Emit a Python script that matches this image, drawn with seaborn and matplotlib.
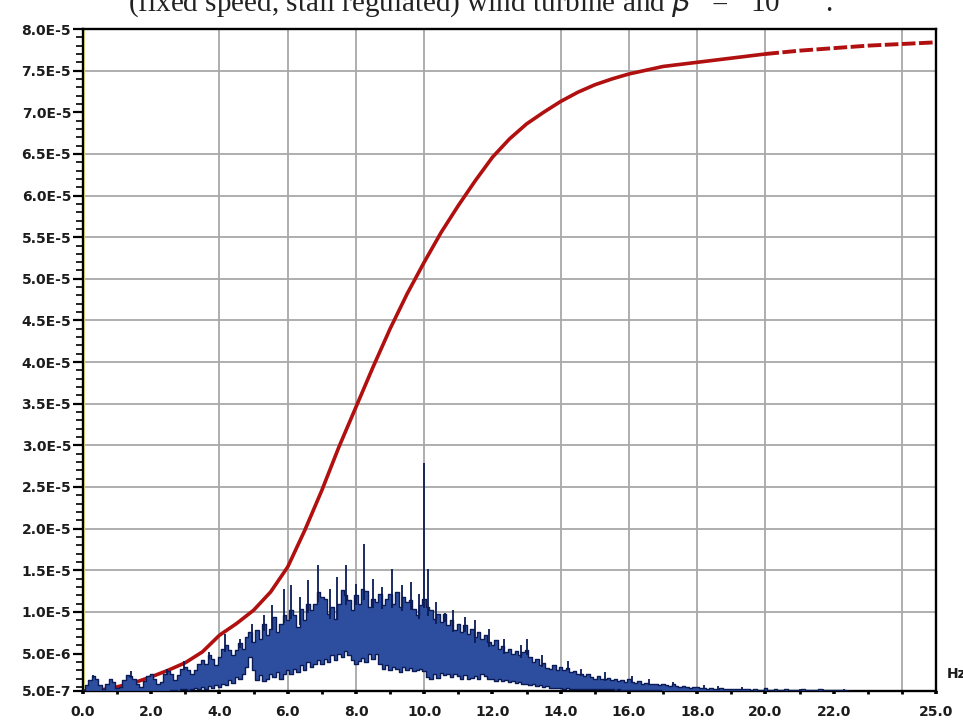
import numpy as np
import matplotlib
matplotlib.use("Agg")
import matplotlib.pyplot as plt
import seaborn as sns
from matplotlib.ticker import FixedLocator, MultipleLocator

# ---- data (amplitudes in units of 1e-6) ----
# blue spectrum band, sampled every 0.1 Hz from 0.0 to 22.5 Hz
spec_upper = [
    0.6, 1.2, 1.8, 2.3, 2.0, 1.2, 0.7, 1.4, 1.9, 1.6,
    0.9, 1.0, 1.8, 2.4, 2.3, 2.0, 1.3, 1.0, 1.7, 2.3,
    2.6, 2.0, 1.3, 1.6, 2.5, 2.9, 2.6, 1.8, 2.4, 3.2,
    3.4, 3.0, 2.6, 3.0, 3.8, 4.2, 3.7, 4.8, 4.3, 3.6,
    4.6, 5.6, 6.0, 5.4, 4.8, 5.4, 6.3, 5.5, 7.0, 7.6,
    6.4, 7.8, 6.8, 8.5, 7.2, 8.0, 9.4, 7.6, 8.5, 9.6,
    9.0, 10.2, 9.6, 8.2, 10.4, 9.0, 11.0, 10.2, 11.0, 12.4,
    11.8, 11.6, 9.8, 10.6, 9.2, 11.0, 12.6, 12.0, 11.4, 10.2,
    12.0, 11.0, 12.8, 12.5, 10.6, 11.6, 11.2, 12.2, 10.8, 11.6,
    12.2, 11.0, 12.4, 10.6, 11.8, 11.2, 11.4, 10.4, 9.6, 10.8,
    11.6, 10.6, 10.2, 9.2, 9.8, 8.8, 9.7, 8.4, 9.0, 7.8,
    8.6, 7.6, 8.4, 7.4, 8.0, 7.0, 7.6, 6.8, 7.2, 6.4,
    6.0, 6.6, 5.6, 5.9, 5.2, 5.6, 5.0, 5.3, 4.8, 5.2,
    5.4, 4.6, 4.0, 4.3, 3.6, 3.9, 3.3, 3.2, 3.6, 3.0,
    3.4, 3.0, 3.3, 2.8, 2.9, 2.5, 2.6, 2.3, 2.5, 2.2,
    2.0, 2.3, 2.0, 1.9, 2.1, 1.8, 1.9, 1.7, 1.8, 1.6,
    1.9, 1.6, 1.5, 1.7, 1.4, 1.5, 1.3, 1.4, 1.3, 1.2,
    1.3, 1.2, 1.1, 1.3, 1.1, 1.0, 1.1, 1.0, 0.9, 1.0,
    1.0, 0.9, 0.9, 0.8, 0.9, 0.8, 0.8, 0.9, 0.7, 0.8,
    0.7, 0.8, 0.7, 0.7, 0.8, 0.7, 0.6, 0.7, 0.6, 0.6,
    0.9, 0.6, 0.6, 0.7, 0.6, 0.6, 0.7, 0.6, 0.6, 0.6,
    0.6, 0.7, 0.6, 0.6, 0.6, 0.6, 0.7, 0.6, 0.6, 0.6,
    0.6, 0.6, 0.6, 0.6, 0.5, 0.5,
]
spec_lower = [
    0.5, 0.5, 0.5, 0.5, 0.5, 0.5, 0.5, 0.5, 0.5, 0.5,
    0.5, 0.5, 0.5, 0.5, 0.5, 0.5, 0.5, 0.5, 0.5, 0.5,
    0.5, 0.5, 0.5, 0.5, 0.5, 0.5, 0.6, 0.6, 0.5, 0.7,
    0.8, 0.6, 0.7, 0.9, 0.7, 1.0, 0.8, 1.1, 0.9, 1.2,
    1.0, 1.4, 1.2, 1.8, 1.5, 2.2, 1.9, 2.6, 3.4, 4.6,
    3.0, 1.8, 2.4, 1.7, 2.0, 2.6, 2.2, 2.8, 2.0, 2.5,
    3.0, 2.6, 3.2, 2.8, 3.6, 3.0, 4.0, 3.4, 3.7, 4.2,
    3.8, 4.4, 4.0, 4.8, 4.2, 5.0, 4.6, 5.3, 4.8, 4.2,
    3.7, 4.1, 4.5, 4.0, 4.9, 4.4, 4.9, 3.8, 3.2, 3.6,
    3.0, 3.4, 3.2, 2.8, 3.4, 3.0, 3.3, 2.9, 3.0, 3.2,
    2.9, 2.2, 2.0, 2.6, 2.1, 2.7, 2.4, 2.5, 2.2, 2.6,
    2.3, 2.0, 2.4, 2.0, 2.1, 2.3, 2.0, 2.5, 2.3, 1.9,
    2.0, 1.7, 1.9, 1.7, 1.8, 1.6, 1.7, 1.5, 1.6, 1.4,
    1.4, 1.2, 1.3, 1.1, 1.2, 1.0, 1.1, 0.9, 0.9, 0.9,
    0.9, 0.8, 0.9, 0.8, 0.8, 0.8, 0.7, 0.8, 0.75, 0.7,
    0.8, 0.7, 0.7, 0.8, 0.7, 0.7, 0.6, 0.7, 0.6, 0.6,
    0.6, 0.6, 0.6, 0.6, 0.6, 0.6, 0.6, 0.6, 0.6, 0.6,
    0.5, 0.5, 0.5, 0.5, 0.5, 0.5, 0.5, 0.5, 0.5, 0.5,
    0.5, 0.5, 0.5, 0.5, 0.5, 0.5, 0.5, 0.5, 0.5, 0.5,
    0.5, 0.5, 0.5, 0.5, 0.5, 0.5, 0.5, 0.5, 0.5, 0.5,
    0.5, 0.5, 0.5, 0.5, 0.5, 0.5, 0.5, 0.5, 0.5, 0.5,
    0.5, 0.5, 0.5, 0.5, 0.5, 0.5, 0.5, 0.5, 0.5, 0.5,
    0.5, 0.5, 0.5, 0.5, 0.5, 0.5,
]
# narrow spectral peaks
spike_hz = [0.3, 1.4, 2.45, 2.95, 3.7, 4.15, 4.6, 4.95, 5.3, 5.55, 5.9, 6.1,
            6.35, 6.6, 6.9, 7.25, 7.45, 7.7, 8.0, 8.25, 8.5, 8.75, 9.05, 9.35,
            9.6, 9.85, 10.0, 10.1, 10.35, 10.6, 10.85, 11.2, 11.5, 11.9, 12.35,
            12.85, 13.0, 13.45, 14.2, 14.6, 15.3, 16.1, 16.6, 17.3, 18.2, 18.6,
            19.3, 20.0, 21.0, 21.7, 22.3]
spike_top = [2.4, 2.9, 3.2, 4.1, 5.2, 7.4, 6.8, 8.6, 9.6, 10.8, 12.8, 13.2,
             11.8, 13.8, 15.6, 12.8, 14.2, 15.6, 13.4, 18.1, 14.0, 13.0, 15.1, 13.2,
             13.6, 12.2, 27.9, 15.1, 11.2, 9.9, 10.2, 9.4, 9.0, 8.0, 6.8,
             6.0, 6.7, 4.8, 4.1, 3.2, 2.8, 2.3, 1.9, 1.6, 1.2, 1.1,
             1.0, 0.9, 0.8, 0.8, 0.7]

# red cumulative curve
red_hz = [0.0, 0.5, 1.0, 1.5, 2.0, 2.5, 3.0, 3.5, 4.0, 4.5, 5.0, 5.5, 6.0, 6.5,
          7.0, 7.5, 8.0, 8.5, 9.0, 9.5, 10.0, 10.5, 11.0, 11.5, 12.0, 12.5, 13.0,
          13.5, 14.0, 14.5, 15.0, 15.5, 16.0, 17.0, 18.0, 19.0, 20.0, 21.0, 22.0,
          23.0, 24.0, 25.0]
red_val = [0.5, 0.6, 1.0, 1.5, 2.2, 3.0, 3.9, 5.2, 7.2, 8.6, 10.2, 12.4, 15.4, 19.8,
           24.6, 29.8, 34.6, 39.4, 44.0, 48.2, 52.0, 55.6, 58.8, 61.8, 64.6, 66.8, 68.6,
           70.0, 71.3, 72.4, 73.3, 74.0, 74.6, 75.5, 76.0, 76.5, 77.0, 77.4, 77.7,
           78.0, 78.2, 78.4]

xtick_vals = [0, 2, 4, 6, 8, 10, 12, 14, 16, 18, 20, 22, 25]
xtick_labels = ["0.0", "2.0", "4.0", "6.0", "8.0", "10.0", "12.0", "14.0",
                "16.0", "18.0", "20.0", "22.0", "25.0"]
ytick_vals = [5e-7, 5e-6, 1e-5, 1.5e-5, 2e-5, 2.5e-5, 3e-5, 3.5e-5, 4e-5,
              4.5e-5, 5e-5, 5.5e-5, 6e-5, 6.5e-5, 7e-5, 7.5e-5, 8e-5]
ytick_labels = ["5.0E-7", "5.0E-6", "1.0E-5", "1.5E-5", "2.0E-5", "2.5E-5",
                "3.0E-5", "3.5E-5", "4.0E-5", "4.5E-5", "5.0E-5", "5.5E-5",
                "6.0E-5", "6.5E-5", "7.0E-5", "7.5E-5", "8.0E-5"]
grid_x = [4, 6, 8, 10, 14, 16, 18, 20, 24]
grid_y = [1e-5, 1.5e-5, 2e-5, 2.5e-5, 3e-5, 3.5e-5, 4e-5, 4.5e-5, 5e-5,
          5.5e-5, 6e-5, 6.5e-5, 7.5e-5]

# ---- plot ----
sns.set_style("white")
plt.rcParams["font.family"] = ["DejaVu Sans"]

fig = plt.figure(figsize=(9.63, 7.26), dpi=100)
ax = fig.add_axes([83 / 963, 35 / 726, 853 / 963, 662 / 726])

for gx in grid_x:
    ax.axvline(gx, color="#a8a8a8", lw=1.3, zorder=0)
for gy in grid_y:
    ax.axhline(gy, color="#a8a8a8", lw=1.3, zorder=0)
ax.axvline(0.04, color="#f3ee80", lw=0.9, zorder=0)

freq = np.round(np.arange(len(spec_upper)) * 0.1, 1)
upper = np.array(spec_upper) * 1e-6
lower = np.array(spec_lower) * 1e-6

# red curve: solid, then broken toward the end
red_x = np.array(red_hz)
red_y = np.array(red_val) * 1e-6
solid = red_x <= 20.8
broken = red_x >= 20.0
sns.lineplot(x=red_x[solid], y=red_y[solid], color="#b0100f", lw=2.6, ax=ax,
             legend=False, zorder=2)
ax.plot(red_x[broken], red_y[broken], color="#b0100f", lw=2.8,
        dashes=(3.5, 0.9), zorder=2)

# blue band
ax.fill_between(freq, lower, upper, step="mid", color="#2d4d9e", lw=0, zorder=3)
sns.lineplot(x=freq, y=upper, color="#0b1b55", lw=1.0, ax=ax, legend=False,
             zorder=4, drawstyle="steps-mid")
sns.lineplot(x=freq, y=lower, color="#0b1b55", lw=1.0, ax=ax, legend=False,
             zorder=4, drawstyle="steps-mid")
sp_base = np.interp(spike_hz, freq, upper)
ax.vlines(spike_hz, sp_base * 0.9, np.array(spike_top) * 1e-6, color="#0b1b55",
          lw=1.3, zorder=4)

ax.set_xlim(0, 25)
ax.set_ylim(5e-7, 8e-5)
ax.xaxis.set_major_locator(FixedLocator(xtick_vals))
ax.xaxis.set_minor_locator(MultipleLocator(1.0))
ax.set_xticklabels(xtick_labels)
ax.yaxis.set_major_locator(FixedLocator(ytick_vals))
ax.yaxis.set_minor_locator(MultipleLocator(1e-6))
ax.set_yticklabels(ytick_labels)

ax.tick_params(which="both", left=True, bottom=True, direction="out",
               colors="black", labelcolor="#1c1c1c")
ax.tick_params(axis="y", which="major", length=7.5, width=1.6, pad=1, labelsize=10)
ax.tick_params(axis="y", which="minor", length=5, width=1.2)
ax.tick_params(axis="x", which="major", length=2.2, width=2.6, pad=8, labelsize=10)
ax.tick_params(axis="x", which="minor", length=1.8, width=2.0)
for lab in ax.get_xticklabels() + ax.get_yticklabels():
    lab.set_fontweight("bold")

for s in ax.spines.values():
    s.set_color("black")
    s.set_linewidth(1.7)
ax.set_xlabel("")
ax.set_ylabel("")

fig.text(0.983, 0.072, "Hz", fontsize=10, fontweight="bold", va="center",
         ha="left", color="#1c1c1c")
# caption line of the page, cut by the top edge
fig.text(128 / 963, 1 - 12 / 726,
         "(fixed speed, stall regulated) wind turbine and $\\beta$   =   10$^{-4}$  .",
         fontsize=21, family="Liberation Serif", va="baseline", ha="left",
         color="#222222")

fig.savefig("out.png", dpi=100)
